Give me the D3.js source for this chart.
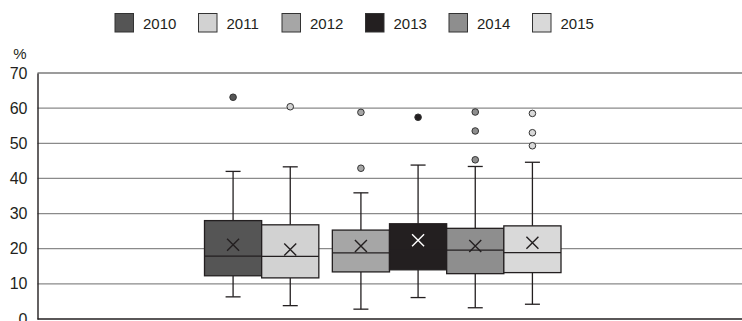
<!DOCTYPE html>
<html><head><meta charset="utf-8">
<script src="https://cdn.jsdelivr.net/npm/d3@7"></script>
<style>body{margin:0;background:#fff}svg{display:block}</style>
</head><body>
<script>
const years = ["2010","2011","2012","2013","2014","2015"];
const colors = ["#555555","#d2d2d2","#a6a6a6","#231f20","#8e8e8e","#d9d9d9"];
const q1 = [12.3, 11.7, 13.4, 14.0, 12.9, 13.2];
const medians = [17.9, 17.8, 18.8, 19.5, 19.6, 18.9];
const q3 = [28.0, 26.8, 25.3, 27.1, 25.8, 26.5];
const whiskerLow = [6.3, 3.8, 2.8, 6.1, 3.2, 4.2];
const whiskerHigh = [42.0, 43.3, 35.9, 43.8, 43.4, 44.6];
const means = [21.1, 19.8, 20.8, 22.4, 20.8, 21.7];
const outliers = [[63.1],[60.4],[58.8,42.9],[57.4],[58.9,53.5,45.3],[58.5,53.0,49.3]];
const yTicks = [0,10,20,30,40,50,60,70];

(function(){
const W = 742, H = 321;
const svg = d3.select("body").append("svg").attr("width", W).attr("height", H);
const pLeft = 37.5, pRight = 742, pTop = 73, pBottom = 319;
const y = d3.scaleLinear().domain([0,70]).range([pBottom, pTop]);
const x = d3.scaleBand().domain(years).range([204.5, 547.5]).paddingInner(0);
const gap = 13.5;
const xs = (d,i) => x(d) + (i >= 2 ? gap : 0);
const bw = x.bandwidth();
const ink = "#231f20";
const font = "'Liberation Sans', Arial, sans-serif";

svg.append("g").selectAll("line").data(yTicks.filter(t => t > 0 && t < 70)).join("line")
  .attr("x1", pLeft).attr("x2", pRight).attr("y1", d => y(d)).attr("y2", d => y(d))
  .attr("stroke", "#8a8a8a").attr("stroke-width", 1.2);
svg.append("line").attr("x1", pLeft).attr("x2", pRight).attr("y1", y(70)).attr("y2", y(70))
  .attr("stroke", "#3a3a3a").attr("stroke-width", 1.2);

const yAxis = d3.axisLeft(y).tickValues(yTicks).tickSize(0).tickPadding(10);
const ga = svg.append("g").attr("transform", `translate(${pLeft},0)`).call(yAxis);
ga.select(".domain").attr("stroke", ink).attr("stroke-width", 1.4);
ga.selectAll("text").attr("font-family", font).attr("font-size", 16).attr("fill", ink);
svg.append("text").attr("x", 20).attr("y", 59).attr("text-anchor", "middle")
  .attr("font-family", font).attr("font-size", 15).attr("fill", ink).text("%");
svg.append("line").attr("x1", pLeft).attr("x2", pRight).attr("y1", y(0)).attr("y2", y(0))
  .attr("stroke", ink).attr("stroke-width", 1.6);

const g = svg.append("g").selectAll("g").data(years).join("g");
g.each(function(d, i) {
  const s = d3.select(this);
  const x0 = xs(d, i), cx = x0 + bw / 2;
  const lineCol = ink;
  s.append("line").attr("x1", cx).attr("x2", cx).attr("y1", y(whiskerHigh[i])).attr("y2", y(q3[i]))
    .attr("stroke", lineCol).attr("stroke-width", 1.3);
  s.append("line").attr("x1", cx).attr("x2", cx).attr("y1", y(whiskerLow[i])).attr("y2", y(q1[i]))
    .attr("stroke", lineCol).attr("stroke-width", 1.3);
  [whiskerHigh[i], whiskerLow[i]].forEach(v => {
    s.append("line").attr("x1", cx - 7.5).attr("x2", cx + 7.5).attr("y1", y(v)).attr("y2", y(v))
      .attr("stroke", lineCol).attr("stroke-width", 1.3);
  });
  s.append("rect").attr("x", x0).attr("y", y(q3[i])).attr("width", bw).attr("height", y(q1[i]) - y(q3[i]))
    .attr("fill", colors[i]).attr("stroke", ink).attr("stroke-width", 1.3);
  s.append("line").attr("x1", x0).attr("x2", x0 + bw).attr("y1", y(medians[i])).attr("y2", y(medians[i]))
    .attr("stroke", ink).attr("stroke-width", 1.3);
  const my = y(means[i]), r = 6;
  const mc = i === 3 ? "#ffffff" : ink;
  s.append("path").attr("d", `M${cx-r},${my-r}L${cx+r},${my+r}M${cx-r},${my+r}L${cx+r},${my-r}`)
    .attr("stroke", mc).attr("stroke-width", 1.4).attr("fill", "none");
  s.selectAll("circle").data(outliers[i]).join("circle")
    .attr("cx", cx).attr("cy", v => y(v)).attr("r", 3.3)
    .attr("fill", colors[i]).attr("stroke", "#333").attr("stroke-width", 1);
});

const lg = svg.append("g").selectAll("g").data(years).join("g")
  .attr("transform", (d, i) => `translate(${115 + i * 83.5},13.5)`);
lg.append("rect").attr("width", 18.5).attr("height", 18.5)
  .attr("fill", (d, i) => colors[i]).attr("stroke", "#333").attr("stroke-width", 1);
lg.append("text").attr("x", 28).attr("y", 15).attr("font-family", font).attr("font-size", 15)
  .attr("fill", ink).text(d => d);
})();
</script>
</body></html>
